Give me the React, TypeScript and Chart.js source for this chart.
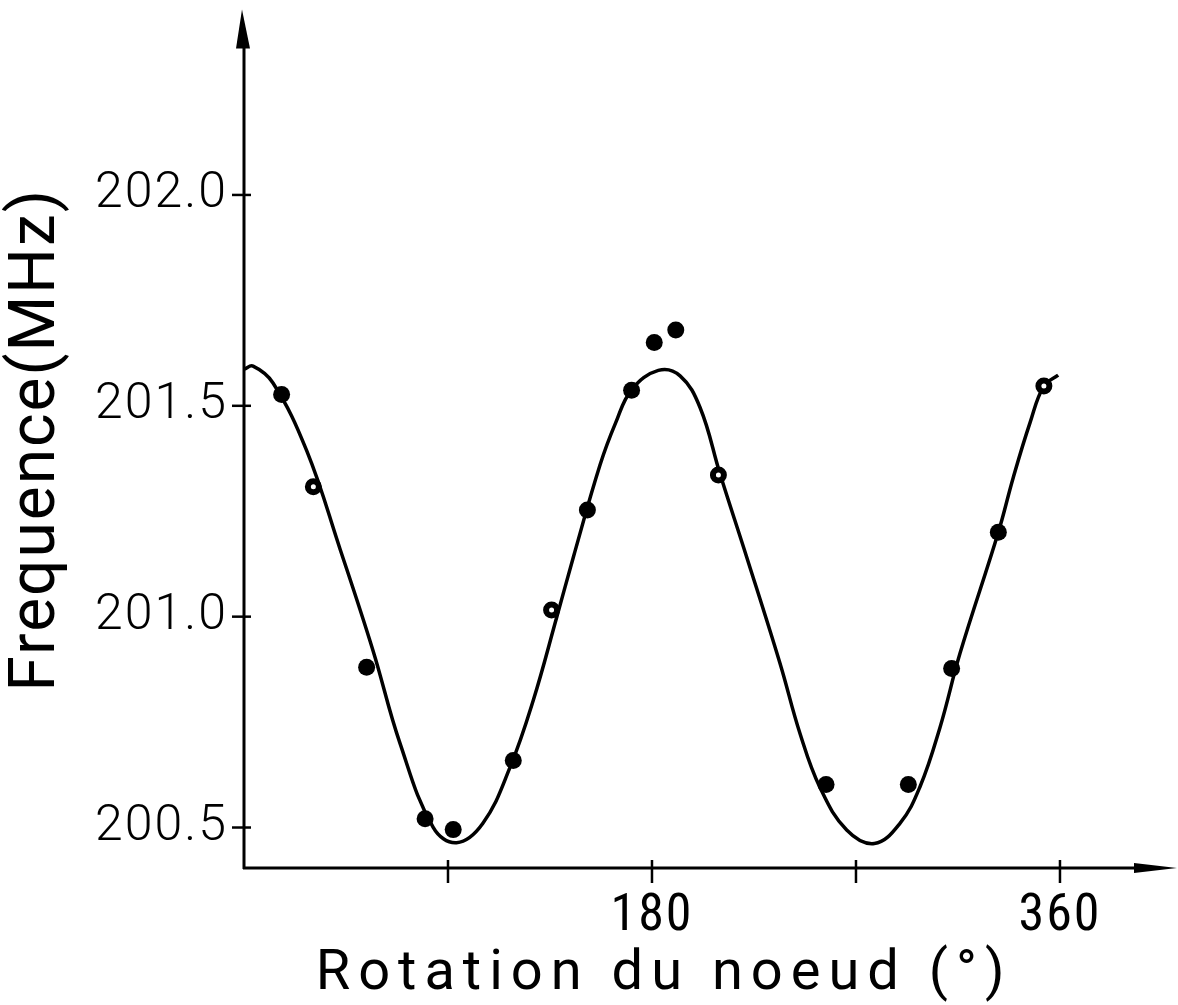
import React, { useEffect, useRef } from "react";
import { Chart, registerables } from "chart.js";

Chart.register(...registerables);

// ---- data ----
// measured points (filled dots)
const FILLED_X = [16.6, 54.1, 79.9, 92.3, 118.8, 151.5, 171.0, 181.0, 190.5, 256.8, 293.1, 312.2, 332.8];
const FILLED_Y = [201.527, 200.88, 200.521, 200.495, 200.659, 201.253, 201.537, 201.65, 201.68, 200.602, 200.602, 200.877, 201.2];
// measured points (open circles)
const OPEN_X = [30.6, 135.7, 209.3, 352.9];
const OPEN_Y = [201.308, 201.016, 201.336, 201.547];
// fitted curve
const CURVE_X = [0, 4.0, 12.8, 27.7, 42.4, 56.9, 68.8, 83.4, 93.8, 105.4, 117.4, 127.6, 138.0, 145.3, 157.1, 164.0, 171.0, 182.8, 192.4, 201.2, 210.0, 221.8, 236.5, 245.3, 254.1, 265.9, 278.1, 289.4, 298.2, 307.1, 315.9, 332.8, 339.4, 346.8, 352.9, 359.2];
const CURVE_Y = [201.587, 201.594, 201.554, 201.393, 201.16, 200.92, 200.7, 200.501, 200.464, 200.51, 200.643, 200.801, 200.999, 201.141, 201.36, 201.46, 201.538, 201.584, 201.571, 201.496, 201.339, 201.141, 200.889, 200.723, 200.595, 200.494, 200.462, 200.51, 200.596, 200.738, 200.913, 201.2, 201.33, 201.46, 201.547, 201.573];

const X_TICKS = [90, 180, 270, 360];
const X_LABELED = [180, 360];
const Y_TICKS = [200.5, 201.0, 201.5, 202.0];

const X_TITLE = "Rotation du noeud (°)";
const Y_TITLE = "Frequence(MHz)";

const W = 1178;
const H = 1005;

const axesPlugin = {
  id: "handAxes",
  beforeDraw(chart: any) {
    chart.ctx.letterSpacing = "8px";
  },
  afterDatasetsDraw(chart: any) {
    chart.ctx.letterSpacing = "2px";
  },
  afterDraw(chart: any) {
    const { ctx, chartArea } = chart;
    ctx.letterSpacing = "0px";
    const xs = chart.scales.x;
    const ys = chart.scales.y;
    const left = chartArea.left;
    const bottom = chartArea.bottom;
    const top = chartArea.top;
    ctx.save();
    ctx.strokeStyle = "#000";
    ctx.fillStyle = "#000";
    ctx.lineWidth = 3;
    // y axis
    ctx.beginPath();
    ctx.moveTo(left, bottom + 1);
    ctx.lineTo(left, top + 20);
    ctx.stroke();
    ctx.beginPath();
    ctx.moveTo(left - 2, top - 2);
    ctx.lineTo(left - 8, top + 37);
    ctx.lineTo(left + 6, top + 37);
    ctx.closePath();
    ctx.fill();
    // x axis
    ctx.beginPath();
    ctx.moveTo(left - 1, bottom);
    ctx.lineTo(W - 30, bottom);
    ctx.stroke();
    ctx.beginPath();
    ctx.moveTo(W - 1, bottom);
    ctx.lineTo(W - 44, bottom - 5);
    ctx.lineTo(W - 44, bottom + 5);
    ctx.closePath();
    ctx.fill();
    // tick marks crossing the axes
    ctx.lineWidth = 2.5;
    for (const v of Y_TICKS) {
      const p = ys.getPixelForValue(v);
      ctx.beginPath();
      ctx.moveTo(left - 12, p);
      ctx.lineTo(left + 7, p);
      ctx.stroke();
    }
    for (const v of X_TICKS) {
      const p = xs.getPixelForValue(v);
      ctx.beginPath();
      ctx.moveTo(p, bottom - 8);
      ctx.lineTo(p, bottom + 15);
      ctx.stroke();
    }
    ctx.restore();
  },
};

export default function App() {
  const ref = useRef<HTMLCanvasElement>(null);

  useEffect(() => {
    document.body.style.margin = "0";
    const canvas = ref.current!;
    const filled = FILLED_X.map((x, i) => ({ x, y: FILLED_Y[i] }));
    const open = OPEN_X.map((x, i) => ({ x, y: OPEN_Y[i] }));
    const curve = CURVE_X.map((x, i) => ({ x, y: CURVE_Y[i] }));

    const chart = new Chart(canvas, {
      type: "scatter",
      data: {
        datasets: [
          {
            label: "mesures",
            data: filled,
            pointRadius: 8.5,
            pointBackgroundColor: "#000",
            pointBorderWidth: 0,
            pointBorderColor: "#000",
            showLine: false,
          },
          {
            label: "mesures (o)",
            data: open,
            pointRadius: 5.5,
            pointBackgroundColor: "#fff",
            pointBorderWidth: 6,
            pointBorderColor: "#000",
            showLine: false,
          },
          {
            label: "ajustement",
            data: curve,
            showLine: true,
            borderColor: "#000",
            borderWidth: 3.5,
            pointRadius: 0,
            tension: 0.4,
            fill: false,
          },
        ],
      } as any,
      options: {
        responsive: false,
        animation: false,
        devicePixelRatio: 1,
        events: [],
        layout: { padding: { top: 10, right: 94, left: 0, bottom: 0 } },
        plugins: {
          legend: { display: false },
          tooltip: { enabled: false },
        },
        scales: {
          x: {
            type: "linear",
            min: 0,
            max: 370.6,
            afterBuildTicks: (s: any) => {
              s.ticks = X_TICKS.map((v) => ({ value: v }));
            },
            afterFit: (s: any) => {
              s.height = 137;
              s.paddingLeft = 0;
              s.paddingRight = 0;
            },
            grid: { display: false, drawTicks: false },
            border: { display: false },
            ticks: {
              z: 1,
              padding: 18,
              color: "#000",
              autoSkip: false,
              maxRotation: 0,
              font: {
                family: "'Liberation Sans Narrow', 'Roboto Condensed', 'DejaVu Sans Condensed', Roboto, sans-serif",
                size: 52,
              },
              callback: (v: any) => (X_LABELED.includes(Number(v)) ? String(v) : ""),
            },
            title: {
              display: true,
              text: X_TITLE,
              color: "#000",
              padding: { top: 0, bottom: -4 },
              font: { family: "Roboto, 'DejaVu Sans', sans-serif", size: 56, weight: "400" },
            },
          },
          y: {
            type: "linear",
            min: 200.404,
            max: 202.435,
            afterBuildTicks: (s: any) => {
              s.ticks = Y_TICKS.map((v) => ({ value: v }));
            },
            afterFit: (s: any) => {
              s.width = 244;
              s.paddingTop = 0;
              s.paddingBottom = 0;
            },
            grid: { display: false, drawTicks: false, z: 1 },
            border: { display: false },
            ticks: {
              z: 1,
              padding: 16,
              color: "#000",
              autoSkip: false,
              font: { family: "Roboto, 'DejaVu Sans', sans-serif", size: 50, weight: "300" },
              callback: (v: any) => Number(v).toFixed(1),
            },
            title: {
              display: true,
              text: Y_TITLE,
              color: "#000",
              padding: 0,
              font: { family: "Roboto, 'DejaVu Sans', sans-serif", size: 64, weight: "400" },
            },
          },
        },
      } as any,
      plugins: [axesPlugin],
    });
    return () => chart.destroy();
  }, []);

  return (
    <div style={{ position: "absolute", left: 0, top: 0, width: W, height: H, background: "#fff" }}>
      <canvas ref={ref} width={W} height={H} style={{ display: "block", width: W, height: H }} />
    </div>
  );
}
